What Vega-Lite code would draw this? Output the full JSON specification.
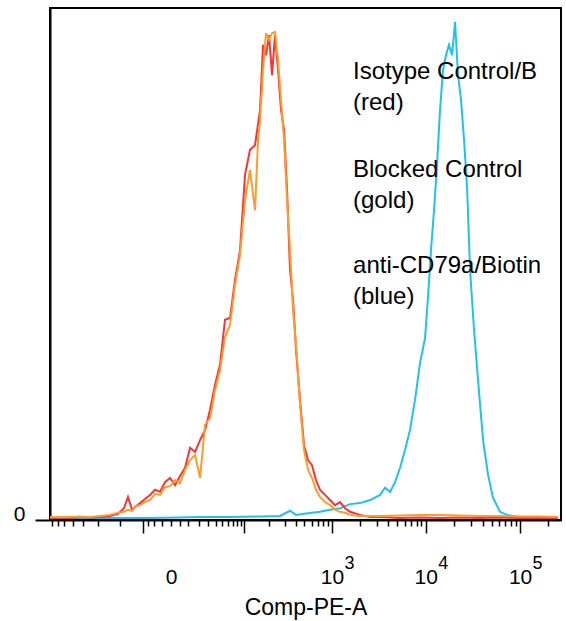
{
  "$schema": "https://vega.github.io/schema/vega-lite/v6.json",
  "width": 511,
  "height": 512,
  "autosize": {"type": "none"},
  "padding": {"left": 50, "top": 8, "right": 5, "bottom": 101},
  "background": "white",
  "config": {
    "view": {"stroke": "black", "strokeWidth": 2},
    "font": "Liberation Sans",
    "axis": {"grid": false}
  },
  "resolve": {"axis": {"x": "independent"}},
  "layer": [
    {
      "data": {
        "values": [
          {"sample": "anti-CD79a/Biotin", "pe": -364.4, "count": 0.4},
          {"sample": "anti-CD79a/Biotin", "pe": -93.5, "count": 0.4},
          {"sample": "anti-CD79a/Biotin", "pe": -13.4, "count": 0.4},
          {"sample": "anti-CD79a/Biotin", "pe": 4.9, "count": 0.5},
          {"sample": "anti-CD79a/Biotin", "pe": 20.7, "count": 0.6},
          {"sample": "anti-CD79a/Biotin", "pe": 64.7, "count": 0.6},
          {"sample": "anti-CD79a/Biotin", "pe": 156.1, "count": 0.7},
          {"sample": "anti-CD79a/Biotin", "pe": 267, "count": 0.8},
          {"sample": "anti-CD79a/Biotin", "pe": 346.2, "count": 1.8},
          {"sample": "anti-CD79a/Biotin", "pe": 403.9, "count": 1.0},
          {"sample": "anti-CD79a/Biotin", "pe": 494.9, "count": 1.2},
          {"sample": "anti-CD79a/Biotin", "pe": 605.6, "count": 1.4},
          {"sample": "anti-CD79a/Biotin", "pe": 740, "count": 1.6},
          {"sample": "anti-CD79a/Biotin", "pe": 951.4, "count": 2.0},
          {"sample": "anti-CD79a/Biotin", "pe": 1220, "count": 2.3},
          {"sample": "anti-CD79a/Biotin", "pe": 1563, "count": 3.1},
          {"sample": "anti-CD79a/Biotin", "pe": 2000, "count": 3.3},
          {"sample": "anti-CD79a/Biotin", "pe": 2557, "count": 3.9},
          {"sample": "anti-CD79a/Biotin", "pe": 3270, "count": 4.9},
          {"sample": "anti-CD79a/Biotin", "pe": 3696, "count": 6.3},
          {"sample": "anti-CD79a/Biotin", "pe": 4177, "count": 5.5},
          {"sample": "anti-CD79a/Biotin", "pe": 4722, "count": 7.4},
          {"sample": "anti-CD79a/Biotin", "pe": 5337, "count": 10.2},
          {"sample": "anti-CD79a/Biotin", "pe": 6032, "count": 13.7},
          {"sample": "anti-CD79a/Biotin", "pe": 6816, "count": 17.6},
          {"sample": "anti-CD79a/Biotin", "pe": 7702, "count": 23.5},
          {"sample": "anti-CD79a/Biotin", "pe": 8702, "count": 30.7},
          {"sample": "anti-CD79a/Biotin", "pe": 9831, "count": 35.5},
          {"sample": "anti-CD79a/Biotin", "pe": 10579, "count": 43.6},
          {"sample": "anti-CD79a/Biotin", "pe": 11379, "count": 52.7},
          {"sample": "anti-CD79a/Biotin", "pe": 12247, "count": 60.5},
          {"sample": "anti-CD79a/Biotin", "pe": 13178, "count": 69.3},
          {"sample": "anti-CD79a/Biotin", "pe": 14183, "count": 80.1},
          {"sample": "anti-CD79a/Biotin", "pe": 15264, "count": 87.9},
          {"sample": "anti-CD79a/Biotin", "pe": 16426, "count": 90.8},
          {"sample": "anti-CD79a/Biotin", "pe": 17674, "count": 92.8},
          {"sample": "anti-CD79a/Biotin", "pe": 19023, "count": 90.8},
          {"sample": "anti-CD79a/Biotin", "pe": 20468, "count": 97.3},
          {"sample": "anti-CD79a/Biotin", "pe": 22021, "count": 86.9},
          {"sample": "anti-CD79a/Biotin", "pe": 23698, "count": 82.0},
          {"sample": "anti-CD79a/Biotin", "pe": 25497, "count": 74.2},
          {"sample": "anti-CD79a/Biotin", "pe": 27445, "count": 65.0},
          {"sample": "anti-CD79a/Biotin", "pe": 29527, "count": 48.8},
          {"sample": "anti-CD79a/Biotin", "pe": 32543, "count": 37.1},
          {"sample": "anti-CD79a/Biotin", "pe": 35872, "count": 27.3},
          {"sample": "anti-CD79a/Biotin", "pe": 40542, "count": 15.6},
          {"sample": "anti-CD79a/Biotin", "pe": 45808, "count": 8.8},
          {"sample": "anti-CD79a/Biotin", "pe": 51758, "count": 4.3},
          {"sample": "anti-CD79a/Biotin", "pe": 61383, "count": 1.6},
          {"sample": "anti-CD79a/Biotin", "pe": 72783, "count": 1.0},
          {"sample": "anti-CD79a/Biotin", "pe": 84239, "count": 0.8},
          {"sample": "anti-CD79a/Biotin", "pe": 99940, "count": 0.6},
          {"sample": "anti-CD79a/Biotin", "pe": 162850, "count": 0.4},
          {"sample": "anti-CD79a/Biotin", "pe": 252580, "count": 0.4},

          {"sample": "Isotype Control/B", "pe": -364.4, "count": 0.4},
          {"sample": "Isotype Control/B", "pe": -281.2, "count": 0.5},
          {"sample": "Isotype Control/B", "pe": -215.9, "count": 0.4},
          {"sample": "Isotype Control/B", "pe": -164.9, "count": 0.6},
          {"sample": "Isotype Control/B", "pe": -124.9, "count": 0.5},
          {"sample": "Isotype Control/B", "pe": -93.5, "count": 0.6},
          {"sample": "Isotype Control/B", "pe": -68.9, "count": 0.8},
          {"sample": "Isotype Control/B", "pe": -53.1, "count": 1.2},
          {"sample": "Isotype Control/B", "pe": -43.2, "count": 2.3},
          {"sample": "Isotype Control/B", "pe": -37.3, "count": 4.5},
          {"sample": "Isotype Control/B", "pe": -31.9, "count": 2.0},
          {"sample": "Isotype Control/B", "pe": -27.1, "count": 2.7},
          {"sample": "Isotype Control/B", "pe": -22.7, "count": 3.3},
          {"sample": "Isotype Control/B", "pe": -17.8, "count": 4.1},
          {"sample": "Isotype Control/B", "pe": -13.4, "count": 4.9},
          {"sample": "Isotype Control/B", "pe": -9.6, "count": 5.9},
          {"sample": "Isotype Control/B", "pe": -6.2, "count": 5.5},
          {"sample": "Isotype Control/B", "pe": -3.2, "count": 7.4},
          {"sample": "Isotype Control/B", "pe": -0.5, "count": 8.2},
          {"sample": "Isotype Control/B", "pe": 2.1, "count": 6.8},
          {"sample": "Isotype Control/B", "pe": 4.9, "count": 8.6},
          {"sample": "Isotype Control/B", "pe": 8.2, "count": 10.2},
          {"sample": "Isotype Control/B", "pe": 11.9, "count": 14.1},
          {"sample": "Isotype Control/B", "pe": 16.0, "count": 13.3},
          {"sample": "Isotype Control/B", "pe": 20.7, "count": 15.6},
          {"sample": "Isotype Control/B", "pe": 26.0, "count": 17.6},
          {"sample": "Isotype Control/B", "pe": 31.9, "count": 21.5},
          {"sample": "Isotype Control/B", "pe": 38.7, "count": 26.4},
          {"sample": "Isotype Control/B", "pe": 46.3, "count": 30.3},
          {"sample": "Isotype Control/B", "pe": 54.9, "count": 39.1},
          {"sample": "Isotype Control/B", "pe": 64.7, "count": 39.5},
          {"sample": "Isotype Control/B", "pe": 75.6, "count": 46.9},
          {"sample": "Isotype Control/B", "pe": 88.1, "count": 52.7},
          {"sample": "Isotype Control/B", "pe": 102.1, "count": 67.4},
          {"sample": "Isotype Control/B", "pe": 117.9, "count": 72.3},
          {"sample": "Isotype Control/B", "pe": 135.8, "count": 73.2},
          {"sample": "Isotype Control/B", "pe": 156.1, "count": 80.1},
          {"sample": "Isotype Control/B", "pe": 169.4, "count": 92.8},
          {"sample": "Isotype Control/B", "pe": 183.8, "count": 90.8},
          {"sample": "Isotype Control/B", "pe": 199.3, "count": 94.7},
          {"sample": "Isotype Control/B", "pe": 216.0, "count": 86.9},
          {"sample": "Isotype Control/B", "pe": 233.9, "count": 94.7},
          {"sample": "Isotype Control/B", "pe": 253.2, "count": 87.9},
          {"sample": "Isotype Control/B", "pe": 273.9, "count": 80.1},
          {"sample": "Isotype Control/B", "pe": 296.3, "count": 76.2},
          {"sample": "Isotype Control/B", "pe": 320.3, "count": 64.5},
          {"sample": "Isotype Control/B", "pe": 346.2, "count": 48.8},
          {"sample": "Isotype Control/B", "pe": 373.9, "count": 43.0},
          {"sample": "Isotype Control/B", "pe": 403.9, "count": 33.2},
          {"sample": "Isotype Control/B", "pe": 447.2, "count": 23.4},
          {"sample": "Isotype Control/B", "pe": 494.9, "count": 14.6},
          {"sample": "Isotype Control/B", "pe": 547.6, "count": 11.7},
          {"sample": "Isotype Control/B", "pe": 605.6, "count": 10.7},
          {"sample": "Isotype Control/B", "pe": 669.5, "count": 7.8},
          {"sample": "Isotype Control/B", "pe": 740, "count": 5.9},
          {"sample": "Isotype Control/B", "pe": 839.8, "count": 4.9},
          {"sample": "Isotype Control/B", "pe": 951.4, "count": 3.9},
          {"sample": "Isotype Control/B", "pe": 1077, "count": 2.9},
          {"sample": "Isotype Control/B", "pe": 1220, "count": 3.5},
          {"sample": "Isotype Control/B", "pe": 1381, "count": 2.3},
          {"sample": "Isotype Control/B", "pe": 1563, "count": 1.6},
          {"sample": "Isotype Control/B", "pe": 2000, "count": 1.0},
          {"sample": "Isotype Control/B", "pe": 2557, "count": 0.6},
          {"sample": "Isotype Control/B", "pe": 3270, "count": 0.6},
          {"sample": "Isotype Control/B", "pe": 5337, "count": 0.4},
          {"sample": "Isotype Control/B", "pe": 8702, "count": 0.5},
          {"sample": "Isotype Control/B", "pe": 14183, "count": 0.4},
          {"sample": "Isotype Control/B", "pe": 23107, "count": 0.5},
          {"sample": "Isotype Control/B", "pe": 37647, "count": 0.4},
          {"sample": "Isotype Control/B", "pe": 61383, "count": 0.5},
          {"sample": "Isotype Control/B", "pe": 99940, "count": 0.4},
          {"sample": "Isotype Control/B", "pe": 162850, "count": 0.4},
          {"sample": "Isotype Control/B", "pe": 252580, "count": 0.4},

          {"sample": "Blocked Control", "pe": -364.4, "count": 0.6},
          {"sample": "Blocked Control", "pe": -281.2, "count": 0.6},
          {"sample": "Blocked Control", "pe": -215.9, "count": 0.6},
          {"sample": "Blocked Control", "pe": -164.9, "count": 0.7},
          {"sample": "Blocked Control", "pe": -124.9, "count": 0.6},
          {"sample": "Blocked Control", "pe": -93.5, "count": 0.8},
          {"sample": "Blocked Control", "pe": -68.9, "count": 1.0},
          {"sample": "Blocked Control", "pe": -53.1, "count": 1.4},
          {"sample": "Blocked Control", "pe": -43.2, "count": 1.6},
          {"sample": "Blocked Control", "pe": -37.3, "count": 2.0},
          {"sample": "Blocked Control", "pe": -31.9, "count": 1.8},
          {"sample": "Blocked Control", "pe": -27.1, "count": 2.7},
          {"sample": "Blocked Control", "pe": -22.7, "count": 2.9},
          {"sample": "Blocked Control", "pe": -17.8, "count": 3.5},
          {"sample": "Blocked Control", "pe": -13.4, "count": 3.9},
          {"sample": "Blocked Control", "pe": -9.6, "count": 5.1},
          {"sample": "Blocked Control", "pe": -6.2, "count": 4.9},
          {"sample": "Blocked Control", "pe": -3.2, "count": 6.4},
          {"sample": "Blocked Control", "pe": -0.5, "count": 6.6},
          {"sample": "Blocked Control", "pe": 2.1, "count": 7.8},
          {"sample": "Blocked Control", "pe": 4.9, "count": 7.2},
          {"sample": "Blocked Control", "pe": 8.2, "count": 9.8},
          {"sample": "Blocked Control", "pe": 11.9, "count": 11.7},
          {"sample": "Blocked Control", "pe": 16.0, "count": 12.7},
          {"sample": "Blocked Control", "pe": 20.7, "count": 8.2},
          {"sample": "Blocked Control", "pe": 26.0, "count": 18.6},
          {"sample": "Blocked Control", "pe": 31.9, "count": 19.9},
          {"sample": "Blocked Control", "pe": 38.7, "count": 25.4},
          {"sample": "Blocked Control", "pe": 46.3, "count": 29.3},
          {"sample": "Blocked Control", "pe": 54.9, "count": 35.7},
          {"sample": "Blocked Control", "pe": 64.7, "count": 38.1},
          {"sample": "Blocked Control", "pe": 75.6, "count": 45.9},
          {"sample": "Blocked Control", "pe": 88.1, "count": 51.8},
          {"sample": "Blocked Control", "pe": 102.1, "count": 62.5},
          {"sample": "Blocked Control", "pe": 117.9, "count": 68.4},
          {"sample": "Blocked Control", "pe": 135.8, "count": 60.5},
          {"sample": "Blocked Control", "pe": 147.7, "count": 74.2},
          {"sample": "Blocked Control", "pe": 156.1, "count": 78.1},
          {"sample": "Blocked Control", "pe": 169.4, "count": 87.9},
          {"sample": "Blocked Control", "pe": 183.8, "count": 95.1},
          {"sample": "Blocked Control", "pe": 199.3, "count": 93.8},
          {"sample": "Blocked Control", "pe": 216.0, "count": 95.1},
          {"sample": "Blocked Control", "pe": 233.9, "count": 95.3},
          {"sample": "Blocked Control", "pe": 253.2, "count": 89.8},
          {"sample": "Blocked Control", "pe": 273.9, "count": 82.0},
          {"sample": "Blocked Control", "pe": 296.3, "count": 74.2},
          {"sample": "Blocked Control", "pe": 320.3, "count": 62.5},
          {"sample": "Blocked Control", "pe": 346.2, "count": 52.7},
          {"sample": "Blocked Control", "pe": 373.9, "count": 41.0},
          {"sample": "Blocked Control", "pe": 403.9, "count": 34.2},
          {"sample": "Blocked Control", "pe": 447.2, "count": 22.5},
          {"sample": "Blocked Control", "pe": 494.9, "count": 13.7},
          {"sample": "Blocked Control", "pe": 547.6, "count": 9.8},
          {"sample": "Blocked Control", "pe": 605.6, "count": 8.2},
          {"sample": "Blocked Control", "pe": 669.5, "count": 5.9},
          {"sample": "Blocked Control", "pe": 740, "count": 4.5},
          {"sample": "Blocked Control", "pe": 839.8, "count": 3.5},
          {"sample": "Blocked Control", "pe": 951.4, "count": 2.9},
          {"sample": "Blocked Control", "pe": 1077, "count": 2.0},
          {"sample": "Blocked Control", "pe": 1220, "count": 1.6},
          {"sample": "Blocked Control", "pe": 1381, "count": 1.4},
          {"sample": "Blocked Control", "pe": 1563, "count": 1.0},
          {"sample": "Blocked Control", "pe": 2000, "count": 0.8},
          {"sample": "Blocked Control", "pe": 3270, "count": 0.8},
          {"sample": "Blocked Control", "pe": 5337, "count": 0.9},
          {"sample": "Blocked Control", "pe": 8702, "count": 1.0},
          {"sample": "Blocked Control", "pe": 14183, "count": 1.0},
          {"sample": "Blocked Control", "pe": 23107, "count": 0.9},
          {"sample": "Blocked Control", "pe": 37647, "count": 0.8},
          {"sample": "Blocked Control", "pe": 61383, "count": 0.8},
          {"sample": "Blocked Control", "pe": 99940, "count": 0.7},
          {"sample": "Blocked Control", "pe": 162850, "count": 0.7},
          {"sample": "Blocked Control", "pe": 252580, "count": 0.6}
        ]
      },
      "mark": {"type": "line", "strokeWidth": 2, "clip": true},
      "encoding": {
        "x": {
          "field": "pe",
          "type": "quantitative",
          "scale": {"type": "symlog", "constant": 20.1, "domain": [-364.4, 271400], "nice": false},
          "axis": {
            "orient": "bottom",
            "values": [-350, -300, -250, -200, -150, -100, -50, -20, -15, -10, -5, 0, 5, 10, 20, 30, 40, 50, 60, 70, 80, 90, 100, 200, 300, 400, 500, 600, 700, 800, 900, 1000, 2000, 3000, 4000, 5000, 6000, 7000, 8000, 9000, 10000, 20000, 30000, 40000, 50000, 60000, 70000, 80000, 90000, 100000, 200000],
            "labelExpr": "datum.value == 0 ? '0' : (datum.value == 1000 || datum.value == 10000 || datum.value == 100000) ? '10' : ''",
            "labelFontSize": 21,
            "labelFont": "Liberation Sans",
            "labelColor": "black",
            "labelAlign": "center",
            "labelBaseline": "top",
            "labelOverlap": false,
            "labelFlush": false,
            "labelBound": false,
            "labelPadding": {"condition": {"test": "datum.value == 0", "value": 40}, "value": 33},
            "tickSize": {"condition": {"test": "datum.value == -20 || datum.value == 100 || datum.value == 1000 || datum.value == 10000 || datum.value == 100000", "value": 13}, "value": 6},
            "tickColor": "black",
            "tickWidth": 1.5,
            "domainColor": "black",
            "domainWidth": 2,
            "title": "Comp-PE-A",
            "titleFont": "Liberation Sans",
            "titleFontSize": 23,
            "titleFontWeight": "normal",
            "titleColor": "black",
            "titlePadding": 9
          }
        },
        "y": {
          "field": "count",
          "type": "quantitative",
          "scale": {"domain": [0, 100], "nice": false},
          "axis": {
            "values": [0],
            "tickSize": 15,
            "tickColor": "black",
            "tickWidth": 2,
            "labelPadding": 10,
            "labelBaseline": "alphabetic",
            "labelFontSize": 21,
            "labelFont": "Liberation Sans",
            "labelColor": "black",
            "domainColor": "black",
            "domainWidth": 2,
            "title": null
          }
        },
        "color": {
          "field": "sample",
          "type": "nominal",
          "scale": {
            "domain": ["anti-CD79a/Biotin", "Isotype Control/B", "Blocked Control"],
            "range": ["#1ec1f2", "#fa3434", "#ff9a2e"]
          },
          "legend": null
        }
      }
    },
    {
      "data": {"values": [{}]},
      "mark": {"type": "text", "align": "left", "baseline": "top", "fontSize": 24, "lineHeight": 31, "font": "Liberation Sans", "color": "black"},
      "encoding": {
        "x": {
          "datum": 1682,
          "type": "quantitative",
          "axis": {
            "orient": "bottom",
            "values": [1000, 10000, 100000],
            "labelExpr": "datum.value == 1000 ? '3' : datum.value == 10000 ? '4' : '5'",
            "ticks": false,
            "domain": false,
            "labelFontSize": 18,
            "labelFont": "Liberation Sans",
            "labelColor": "black",
            "labelPadding": 34,
            "labelOffset": 17,
            "labelAlign": "center",
            "labelBaseline": "top",
            "labelOverlap": false,
            "labelFlush": false,
            "labelBound": false,
            "title": null
          }
        },
        "y": {
          "datum": 89.8,
          "type": "quantitative",
          "axis": {
            "values": [0],
            "tickSize": 15,
            "tickColor": "black",
            "tickWidth": 2,
            "labelPadding": 10,
            "labelBaseline": "alphabetic",
            "labelFontSize": 21,
            "labelFont": "Liberation Sans",
            "labelColor": "black",
            "domainColor": "black",
            "domainWidth": 2,
            "title": null
          }
        },
        "text": {"value": ["Isotype Control/B", "(red)"]}
      }
    },
    {
      "data": {"values": [{}]},
      "mark": {"type": "text", "align": "left", "baseline": "top", "fontSize": 24, "lineHeight": 31, "font": "Liberation Sans", "color": "black"},
      "encoding": {
        "x": {"datum": 1682, "type": "quantitative", "axis": null},
        "y": {
          "datum": 70.8,
          "type": "quantitative",
          "axis": {
            "values": [0],
            "tickSize": 15,
            "tickColor": "black",
            "tickWidth": 2,
            "labelPadding": 10,
            "labelBaseline": "alphabetic",
            "labelFontSize": 21,
            "labelFont": "Liberation Sans",
            "labelColor": "black",
            "domainColor": "black",
            "domainWidth": 2,
            "title": null
          }
        },
        "text": {"value": ["Blocked Control", "(gold)"]}
      }
    },
    {
      "data": {"values": [{}]},
      "mark": {"type": "text", "align": "left", "baseline": "top", "fontSize": 24, "lineHeight": 31, "font": "Liberation Sans", "color": "black"},
      "encoding": {
        "x": {"datum": 1682, "type": "quantitative", "axis": null},
        "y": {
          "datum": 51.9,
          "type": "quantitative",
          "axis": {
            "values": [0],
            "tickSize": 15,
            "tickColor": "black",
            "tickWidth": 2,
            "labelPadding": 10,
            "labelBaseline": "alphabetic",
            "labelFontSize": 21,
            "labelFont": "Liberation Sans",
            "labelColor": "black",
            "domainColor": "black",
            "domainWidth": 2,
            "title": null
          }
        },
        "text": {"value": ["anti-CD79a/Biotin", "(blue)"]}
      }
    }
  ]
}
